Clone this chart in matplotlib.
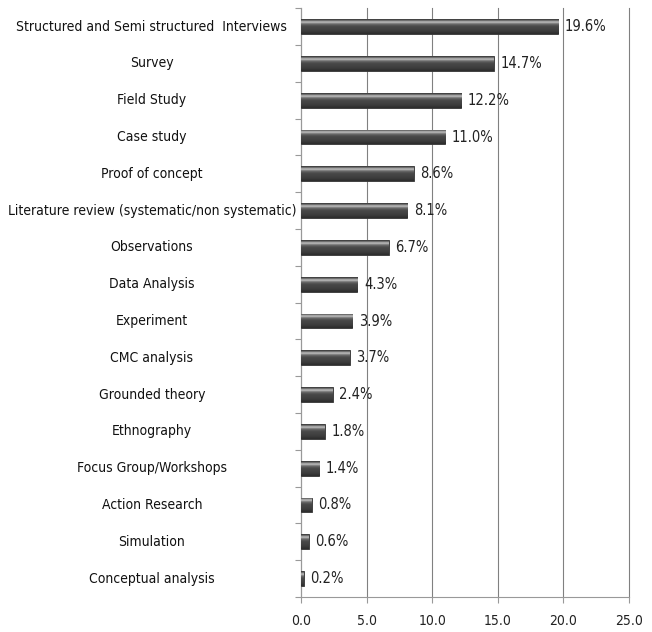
import matplotlib.pyplot as plt
import numpy as np
from matplotlib import font_manager

categories = [
    "Structured and Semi structured  Interviews",
    "Survey",
    "Field Study",
    "Case study",
    "Proof of concept",
    "Literature review (systematic/non systematic)",
    "Observations",
    "Data Analysis",
    "Experiment",
    "CMC analysis",
    "Grounded theory",
    "Ethnography",
    "Focus Group/Workshops",
    "Action Research",
    "Simulation",
    "Conceptual analysis",
]
values = [19.6, 14.7, 12.2, 11.0, 8.6, 8.1, 6.7, 4.3, 3.9, 3.7, 2.4, 1.8, 1.4, 0.8, 0.6, 0.2]
xticks = [0, 5, 10, 15, 20, 25]

# look for a narrow face, the reference uses a condensed font
narrow = None
for f in font_manager.fontManager.ttflist:
    if f.name == "DejaVu Sans" and f.stretch == "condensed" and f.style == "normal" \
            and f.weight in (400, "normal"):
        narrow = f.fname
        break
if narrow is None:
    for f in font_manager.fontManager.ttflist:
        if ("Narrow" in f.name or "Condensed" in f.name) and f.style == "normal":
            narrow = f.fname
            break
fp = font_manager.FontProperties(fname=narrow) if narrow else font_manager.FontProperties(family="DejaVu Sans")
lab_size = 10 if narrow else 8.5

fig = plt.figure(figsize=(6.52, 6.32), dpi=100)
ax = fig.add_axes([0.4617, 0.0554, 0.503, 0.9316])

n = len(categories)
ypos = np.arange(n)
bars = ax.barh(ypos, values, height=0.4, color="#4a4a4a", edgecolor="#333333",
               linewidth=0.6, zorder=3)

# cylinder-ish shading, dark edges with a light stripe near the top
shade = np.array([0.25, 0.40, 0.62, 0.72, 0.55, 0.42, 0.35, 0.30, 0.28, 0.27,
                  0.26, 0.25, 0.24, 0.22, 0.20, 0.18])
grad = np.tile(shade.reshape(-1, 1), (1, 2))
for b in bars:
    x0, y0 = b.get_x(), b.get_y()
    w, h = b.get_width(), b.get_height()
    im = ax.imshow(grad, cmap="gray", vmin=0, vmax=1, aspect="auto",
                   extent=(x0, x0 + w, y0 + h, y0), zorder=4, interpolation="bilinear")
    im.set_clip_path(b)

for y, v in zip(ypos, values):
    ax.text(v + 0.5, y, f"{v:.1f}%", va="center", ha="left", fontproperties=fp,
            fontsize=lab_size + 0.5, color="#222222", zorder=5)

for y, c in zip(ypos, categories):
    ax.text(-0.455, y, c, transform=ax.get_yaxis_transform(), ha="center",
            va="center", fontproperties=fp, fontsize=lab_size, color="#111111")

ax.set_xlim(0, 25)
ax.set_ylim(n - 0.5, -0.5)
ax.set_xticks(xticks)
ax.set_xticklabels([f"{t:.1f}" for t in xticks], fontproperties=fp, fontsize=lab_size,
                   color="#222222")
ax.set_yticks(np.arange(n + 1) - 0.5)
ax.set_yticklabels([])
ax.tick_params(axis="y", length=4, color="#999999", direction="out")
ax.tick_params(axis="x", length=4, color="#999999", direction="out", pad=8)

ax.grid(axis="x", color="#808080", linewidth=0.8, zorder=0)
for gl in ax.get_xgridlines():
    gl.set_clip_on(False)
for s in ["top", "right"]:
    ax.spines[s].set_visible(False)
for s in ["left", "bottom"]:
    ax.spines[s].set_color("#999999")

fig.savefig("out.png", dpi=100)
